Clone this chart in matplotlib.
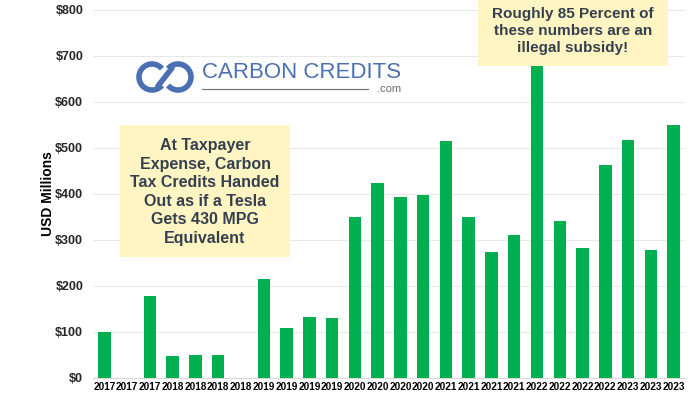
import numpy as np
import matplotlib
matplotlib.use("Agg")
import matplotlib.pyplot as plt
from matplotlib.patches import Rectangle, Arc

plt.rcParams['font.family'] = ['Liberation Sans', 'DejaVu Sans']

##### donnees #####
years = ['2017', '2017', '2017',
         '2018', '2018', '2018', '2018',
         '2019', '2019', '2019', '2019',
         '2020', '2020', '2020', '2020',
         '2021', '2021', '2021', '2021',
         '2022', '2022', '2022', '2022',
         '2023', '2023', '2023']
credits = [100, 0, 178, 48, 51, 50, 0, 215, 109, 132, 131,
           351, 425, 393, 398, 515, 351, 275, 311,
           680, 341, 283, 463, 518, 278, 551]
yticks = [0, 100, 200, 300, 400, 500, 600, 700, 800]

note_left = "At Taxpayer\nExpense, Carbon\nTax Credits Handed\nOut as if a Tesla\nGets 430 MPG\nEquivalent"
note_right = "Roughly 85 Percent of\nthese numbers are an\nillegal subsidy!"

W, H = 700, 394
fig = plt.figure(figsize=(7.0, 3.94), dpi=100)
ax = fig.add_axes([93 / W, 16 / H, 592 / W, 368 / H])

x = np.arange(len(credits))
ax.bar(x, credits, width=0.55, color='#00B050', zorder=3)

ax.set_xlim(-0.5, len(credits) - 0.5)
ax.set_ylim(0, 800)
ax.set_yticks(yticks)
ax.set_yticklabels(['$' + str(v) for v in yticks])
ax.set_xticks(x)
ax.set_xticklabels(years)
ax.tick_params(axis='both', length=0)
ax.tick_params(axis='x', labelsize=7.2, pad=3)
ax.tick_params(axis='y', labelsize=9, pad=7, labelcolor='#262626')
for lab in ax.get_xticklabels() + ax.get_yticklabels():
    lab.set_fontweight('bold')

ax.grid(axis='y', color='#E8E8E8', lw=0.8, zorder=0)
for s in ['left', 'right', 'top']:
    ax.spines[s].set_visible(False)
ax.spines['bottom'].set_color('#D9D9D9')
ax.set_ylabel('USD Millions', fontsize=10, fontweight='bold', labelpad=0)

##### boites de texte #####
txtcol = '#34404F'
fig.add_artist(Rectangle((120 / W, (H - 257) / H), 170 / W, 132 / H,
                         transform=fig.transFigure, facecolor='#FFF5C2',
                         edgecolor='none', zorder=5))
fig.text(205 / W, (H - 192) / H, note_left, ha='center', va='center',
         fontsize=11.5, fontweight='bold', color=txtcol, linespacing=1.3, zorder=6)

fig.add_artist(Rectangle((478 / W, (H - 66) / H), 190 / W, 66 / H,
                         transform=fig.transFigure, facecolor='#FFF5C2',
                         edgecolor='none', zorder=5))
fig.text(573 / W, (H - 31) / H, note_right, ha='center', va='center',
         fontsize=11, fontweight='bold', color=txtcol, linespacing=1.3, zorder=6)

##### logo #####
blue = '#4A70B3'
fig.text(202 / W, (H - 73) / H, 'CARBON CREDITS', ha='left', va='center',
         fontsize=16, color=blue, zorder=6)
fig.add_artist(plt.Line2D([202 / W, 368 / W], [(H - 89) / H, (H - 89) / H],
                          transform=fig.transFigure, color='#6D6D6D', lw=0.8))
fig.text(401 / W, (H - 89) / H, '.com', ha='right', va='center',
         fontsize=8, color='#6D6D6D')

lax = fig.add_axes([136 / W, (H - 94) / H, 58 / W, 34 / H])
lax.set_xlim(0, 58)
lax.set_ylim(0, 34)
lax.axis('off')
lax.add_patch(Arc((16, 17), 26, 26, theta1=40, theta2=320, lw=4, color=blue))
lax.add_patch(Arc((42, 17), 26, 26, theta1=-140, theta2=140, lw=4, color=blue))
lax.plot([22, 36], [8, 26], color=blue, lw=4, solid_capstyle='round')

fig.savefig('out.png', dpi=100)
